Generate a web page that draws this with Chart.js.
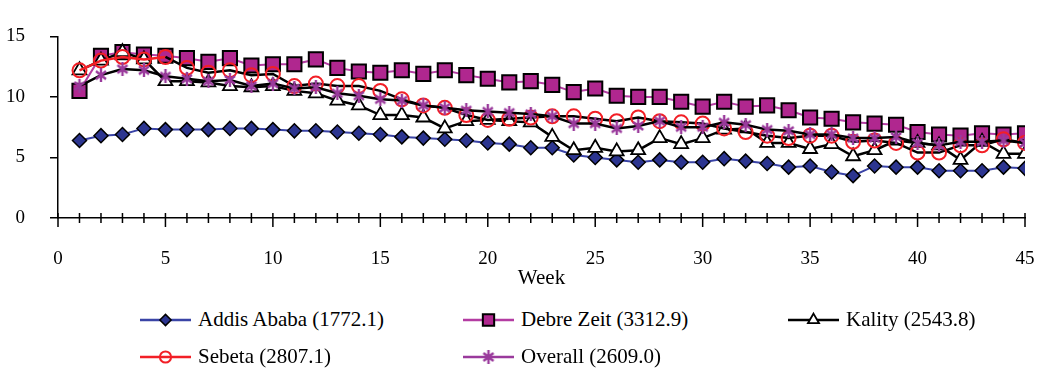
<!DOCTYPE html>
<html>
<head>
<meta charset="utf-8">
<title>Weekly values by site</title>
<script src="https://cdn.jsdelivr.net/npm/chart.js@4.4.0/dist/chart.umd.min.js"></script>
<style>
  body { margin: 0; background: #fff; }
  #wrap { position: relative; width: 1037px; height: 371px; font-family: "Liberation Serif", serif; }
  #chartBox { position: absolute; left: 0; top: 0; width: 1037px; height: 295px; }
  #legend { position: absolute; left: 140px; top: 301px; display: grid; grid-template-columns: 323px 325px auto; }
  .item { display: flex; align-items: center; height: 37px; font-size: 21px; color: #000; white-space: nowrap; }
  .item canvas { margin-right: 7px; }
</style>
</head>
<body>
<div id="wrap">
  <div id="chartBox"><canvas id="chart"></canvas></div>
  <div id="legend"></div>
</div>
<script>
const weeks = [1, 2, 3, 4, 5, 6, 7, 8, 9, 10, 11, 12, 13, 14, 15, 16, 17, 18, 19, 20, 21, 22, 23,
  24, 25, 26, 27, 28, 29, 30, 31, 32, 33, 34, 35, 36, 37, 38, 39, 40, 41, 42, 43, 44, 45];

const addisAbaba = [6.4, 6.8, 6.9, 7.4, 7.3, 7.3, 7.3, 7.4, 7.4, 7.3, 7.2, 7.2, 7.1, 7.0, 6.9, 6.7, 6.6, 6.5,
  6.4, 6.2, 6.1, 5.8, 5.8, 5.2, 5.0, 4.8, 4.6, 4.8, 4.6, 4.6, 4.9, 4.7, 4.5, 4.2, 4.3, 3.8, 3.5, 4.3, 4.2,
  4.2, 3.9, 3.9, 3.9, 4.2, 4.1];
const debreZeit = [10.5, 13.4, 13.7, 13.5, 13.4, 13.2, 12.9, 13.2, 12.6, 12.7, 12.7, 13.1, 12.4, 12.1, 12.0,
  12.2, 11.9, 12.2, 11.8, 11.5, 11.2, 11.3, 11.0, 10.4, 10.7, 10.1, 10.0, 10.0, 9.6, 9.2, 9.6, 9.2, 9.3, 8.9,
  8.3, 8.2, 7.9, 7.8, 7.7, 7.1, 6.9, 6.8, 7.0, 6.9, 7.0];
const kality = [12.2, 13.0, 13.7, 13.1, 11.3, 11.3, 11.2, 10.9, 10.8, 10.9, 10.5, 10.3, 9.7, 9.3, 8.5, 8.5,
  8.3, 7.4, 8.0, 8.1, 8.0, 7.9, 6.7, 5.6, 5.8, 5.5, 5.6, 6.6, 6.1, 6.6, 7.3, 7.4, 6.2, 6.2, 5.7, 6.1, 5.1,
  5.6, 6.4, 6.2, 6.0, 4.8, 6.3, 5.3, 5.3];
const sebeta = [12.2, 13.0, 13.3, 13.1, 13.3, 12.4, 12.0, 12.2, 11.8, 11.9, 10.9, 11.1, 10.9, 10.9, 10.5, 9.8,
  9.3, 9.1, 8.5, 8.1, 8.2, 8.3, 8.4, 8.4, 8.2, 8.0, 8.3, 8.0, 7.9, 7.8, 7.4, 7.1, 6.8, 6.6, 6.8, 6.8, 6.3,
  6.4, 6.2, 5.4, 5.4, 6.0, 6.0, 6.5, 6.2];
const overall = [10.9, 11.8, 12.3, 12.2, 11.7, 11.5, 11.3, 11.4, 10.9, 11.1, 10.7, 10.8, 10.3, 10.1, 9.8, 9.7,
  9.3, 9.1, 8.9, 8.8, 8.7, 8.6, 8.4, 7.8, 7.8, 7.4, 7.6, 8.0, 7.5, 7.5, 7.9, 7.7, 7.3, 7.2, 6.9, 6.9, 6.6,
  6.6, 6.7, 6.2, 6.0, 6.3, 6.3, 6.4, 6.2];

const seriesLabels = ['Addis Ababa (1772.1)', 'Debre Zeit (3312.9)', 'Kality (2543.8)',
  'Sebeta (2807.1)', 'Overall (2609.0)'];
const yTicks = [0, 5, 10, 15];

const FONT = '"Liberation Serif", "Times New Roman", serif';
const RED = '#f21f26';

// six-armed asterisk marker (X plus a vertical stroke)
function asterisk(size, color) {
  const c = document.createElement('canvas');
  c.width = size; c.height = size;
  const g = c.getContext('2d');
  g.strokeStyle = color;
  g.lineWidth = 2.4;
  const m = 2;
  g.beginPath();
  g.moveTo(m, m + 1); g.lineTo(size - m, size - m - 1);
  g.moveTo(size - m, m + 1); g.lineTo(m, size - m - 1);
  g.moveTo(size / 2, 0); g.lineTo(size / 2, size);
  g.stroke();
  return c;
}

const toPoints = vals => weeks.map((w, i) => ({ x: w, y: vals[i] }));

const datasets = [
  {
    label: seriesLabels[0], data: toPoints(addisAbaba), order: 4,
    borderColor: '#3a44a6', borderWidth: 2,
    pointStyle: 'rectRot', pointRadius: 7, pointBackgroundColor: '#2c3590',
    pointBorderColor: '#000', pointBorderWidth: 1.5,
    legendColor: '#3a44a6'
  },
  {
    label: seriesLabels[1], data: toPoints(debreZeit), order: 3,
    borderColor: '#b43ca2', borderWidth: 2,
    pointStyle: 'rect', pointRadius: 10, pointBackgroundColor: '#b0278f',
    pointBorderColor: '#000', pointBorderWidth: 2,
    legendColor: '#b43ca2'
  },
  {
    label: seriesLabels[2], data: toPoints(kality), order: 2,
    borderColor: '#000', borderWidth: 2.5,
    pointStyle: 'triangle', pointRadius: 8, pointBackgroundColor: '#fff',
    pointBorderColor: '#000', pointBorderWidth: 1.8,
    legendColor: '#000'
  },
  {
    label: seriesLabels[3], data: toPoints(sebeta), order: 1,
    borderColor: '#000', borderWidth: 2.5,
    // first weeks drawn in red, rest of the line in black
    segment: { borderColor: c => c.p0DataIndex < 4 ? RED : '#000' },
    pointStyle: 'circle', pointRadius: 7, pointBackgroundColor: 'rgba(0,0,0,0)',
    pointBorderColor: RED, pointBorderWidth: 2,
    legendColor: RED
  },
  {
    label: seriesLabels[4], data: toPoints(overall), order: 0,
    borderColor: '#000', borderWidth: 2.5,
    pointStyle: asterisk(14, '#9a3a9c'), pointRadius: 7,
    legendColor: '#9a3a9c'
  }
];

// week ticks crossing the x axis, longer every fifth week
const weekTicks = {
  id: 'weekTicks',
  afterDraw(chart) {
    const xs = chart.scales.x;
    const base = chart.chartArea.bottom;
    const ctx = chart.ctx;
    ctx.save();
    ctx.strokeStyle = '#000';
    ctx.lineWidth = 1.5;
    ctx.beginPath();
    for (let w = xs.min; w <= xs.max; w++) {
      const px = xs.getPixelForValue(w);
      ctx.moveTo(px, base - 5);
      ctx.lineTo(px, base + (w % 5 === 0 ? 9 : 5));
    }
    ctx.stroke();
    ctx.restore();
  }
};

const chart = new Chart(document.getElementById('chart'), {
  type: 'line',
  data: { datasets },
  plugins: [weekTicks],
  options: {
    responsive: true,
    maintainAspectRatio: false,
    animation: false,
    layout: { padding: { top: 16, right: 12, left: 0, bottom: 6 } },
    plugins: { legend: { display: false }, tooltip: { enabled: false } },
    scales: {
      x: {
        type: 'linear', min: 0, max: 45,
        afterFit: s => { s.height = 71; s.paddingLeft = 0; s.paddingRight = 12; },
        border: { color: '#000', width: 1.5 },
        grid: { drawOnChartArea: false, drawTicks: false },
        ticks: { stepSize: 5, padding: 32, color: '#000', maxRotation: 0,
          font: { family: FONT, size: 19, lineHeight: 1 } },
        title: { display: true, text: 'Week', color: '#000', padding: { top: 0, bottom: 0 },
          font: { family: FONT, size: 21, lineHeight: 1 } }
      },
      y: {
        min: 0, max: 15,
        afterBuildTicks: s => { s.ticks = yTicks.map(v => ({ value: v })); },
        afterFit: s => { s.width = 58; },
        border: { color: '#000', width: 1.5 },
        grid: { drawOnChartArea: false, drawTicks: true, tickLength: 8, color: '#000', lineWidth: 1.5 },
        ticks: { padding: 25, color: '#000', font: { family: FONT, size: 19 } }
      }
    }
  }
});

// legend: line with marker, then the label, in three columns
const legendBox = document.getElementById('legend');
datasets.forEach(ds => {
  const item = document.createElement('div');
  item.className = 'item';
  const icon = document.createElement('canvas');
  icon.width = 51; icon.height = 20;
  const g = icon.getContext('2d');
  g.strokeStyle = ds.legendColor;
  g.lineWidth = 2.5;
  g.beginPath(); g.moveTo(0, 10); g.lineTo(51, 10); g.stroke();
  g.fillStyle = ds.pointBackgroundColor || 'rgba(0,0,0,0)';
  g.strokeStyle = ds.pointBorderColor || ds.legendColor;
  g.lineWidth = ds.pointBorderWidth || 2;
  Chart.helpers.drawPoint(g, {
    pointStyle: ds.pointStyle, rotation: 0,
    radius: typeof ds.pointStyle === 'string' ? ds.pointRadius * 0.8 : ds.pointRadius,
    borderWidth: ds.pointBorderWidth || 0
  }, 25.5, 10);
  const text = document.createElement('span');
  text.textContent = ds.label;
  item.appendChild(icon);
  item.appendChild(text);
  legendBox.appendChild(item);
});
</script>
</body>
</html>
